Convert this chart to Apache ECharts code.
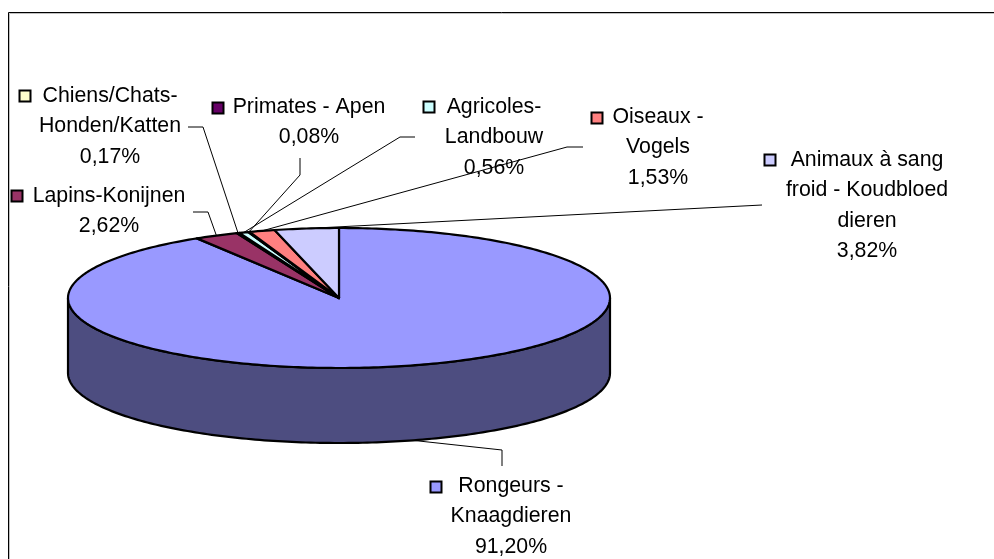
<!DOCTYPE html>
<html>
<head>
<meta charset="utf-8">
<style>html,body{margin:0;padding:0;background:#fff}#c{width:994px;height:559px}</style>
<script src="https://cdn.jsdelivr.net/npm/echarts@6/dist/echarts.min.js"></script>
</head>
<body>
<div id="c"></div>
<script>
// Data, clockwise from 12 o'clock
const categories = [
  ['Rongeurs -', 'Knaagdieren'],
  ['Lapins-Konijnen'],
  ['Chiens/Chats-', 'Honden/Katten'],
  ['Agricoles-', 'Landbouw'],
  ['Primates - Apen'],
  ['Oiseaux -', 'Vogels'],
  ['Animaux à sang', 'froid - Koudbloed', 'dieren']
];
const values = [91.20, 2.62, 0.17, 0.56, 0.08, 1.53, 3.82];
const colors = ['#9999FF', '#993366', '#FFFFCC', '#CCFFFF', '#660066', '#FF8080', '#CCCCFF'];

// Layout of the drawing (not data)
const pie = { cx: 339, cy: 298, rx: 271, ry: 70, depth: 75 };
const labelCenterX = [511, 109, 110, 494, 309, 658, 867];
const labelTopY = [486, 196, 96, 107, 107, 117, 160];
const keyX = [436, 17, 25, 429, 218, 597, 770];
const keyY = [487, 196, 96, 107, 108, 118, 160];
const leaderElbows = [
  [[502, 450], [502, 466]],
  [[208, 212], [193, 212]],
  [[203, 127], [188, 127]],
  [[400, 137], [415, 137]],
  [[300, 175], [300, 158]],
  [[567, 147], [583, 147]],
  [[762, 205]]
];
const LINE_H = 30.4;
const FONT = '21.3px "Liberation Sans", Arial, sans-serif';

const total = values.reduce((a, b) => a + b, 0);
const startAngles = [];
values.reduce((acc, v, i) => { startAngles[i] = acc; return acc + v / total * 360; }, 0);

function rim(deg, dy) {
  const t = deg * Math.PI / 180;
  return [pie.cx + pie.rx * Math.sin(t), pie.cy - pie.ry * Math.cos(t) + (dy || 0)];
}
function arc(a0, a1, dy) {
  const n = Math.max(2, Math.ceil(Math.abs(a1 - a0)));
  const pts = [];
  for (let k = 0; k <= n; k++) pts.push(rim(a0 + (a1 - a0) * k / n, dy));
  return pts;
}
const edge = { stroke: '#000', lineWidth: 2.2, lineJoin: 'round' };

function renderSlice(params, api) {
  const i = params.dataIndex;
  const a0 = startAngles[i];
  const a1 = a0 + api.value(0) / total * 360;
  const children = [];
  const s0 = Math.max(a0, 90), s1 = Math.min(a1, 270);
  if (s1 > s0) {
    const top = arc(s0, s1, 0);
    const bottom = arc(s1, s0, pie.depth);
    children.push({
      type: 'polygon',
      shape: { points: top.concat(bottom) },
      style: Object.assign({ fill: echarts.color.lerp(0.5, [colors[i], '#000000']) }, edge)
    });
  }
  children.push({
    type: 'polygon',
    shape: { points: [[pie.cx, pie.cy]].concat(arc(a0, a1, 0)) },
    style: Object.assign({ fill: colors[i] }, edge)
  });
  return { type: 'group', children };
}

function renderLabel(params, api) {
  const i = params.dataIndex;
  const mid = startAngles[i] + api.value(0) / total * 180;
  const front = mid > 90 && mid < 270;
  const anchor = rim(mid, front ? pie.depth : 0);
  const pct = api.value(0).toFixed(2).replace('.', ',') + '%';
  const lines = categories[i].concat([pct]);
  const children = [{
    type: 'polyline',
    shape: { points: [anchor].concat(leaderElbows[i]) },
    style: { stroke: '#000', lineWidth: 1, fill: null }
  }, {
    type: 'rect',
    shape: { x: keyX[i] - 5.5, y: keyY[i] - 5.5, width: 11, height: 11 },
    style: { fill: colors[i], stroke: '#000', lineWidth: 2 }
  }];
  lines.forEach((t, k) => children.push({
    type: 'text',
    style: {
      text: t, x: labelCenterX[i], y: labelTopY[i] + k * LINE_H,
      align: 'center', verticalAlign: 'middle', font: FONT, fill: '#000'
    }
  }));
  return { type: 'group', children };
}

const chart = echarts.init(document.getElementById('c'), null, { renderer: 'canvas' });
const rows = values.map((v, i) => ({ name: categories[i].join(' '), value: [v] }));
chart.setOption({
  animation: false,
  backgroundColor: '#fff',
  tooltip: { show: false },
  graphic: [{
    type: 'rect', silent: true, z: -1,
    shape: { x: 9.5, y: 13.5, width: 1000, height: 560 },
    style: { fill: '#fff', stroke: '#c0c0c0', lineWidth: 1 }
  }, {
    type: 'rect', silent: true, z: -1,
    shape: { x: 8.5, y: 12.5, width: 1000, height: 560 },
    style: { fill: null, stroke: '#000', lineWidth: 1 }
  }],
  series: [
    { type: 'custom', coordinateSystem: 'none', z: 2, silent: true, renderItem: renderSlice, data: rows },
    { type: 'custom', coordinateSystem: 'none', z: 3, silent: true, renderItem: renderLabel, data: rows }
  ]
});
</script>
</body>
</html>
